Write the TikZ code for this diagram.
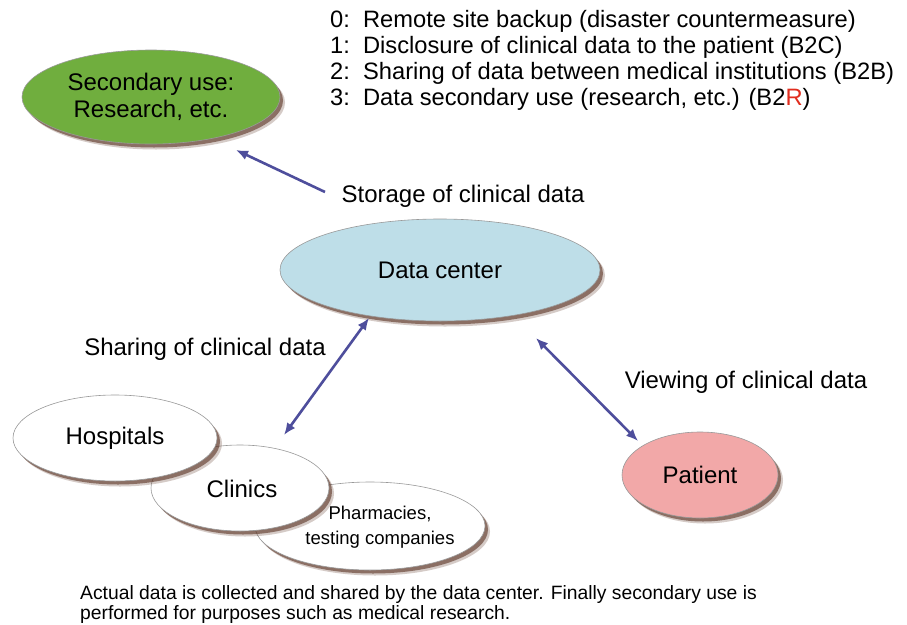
\documentclass[tikz,border=0pt]{standalone}
\usepackage{fontspec}
\setmainfont{Liberation Sans}
\usetikzlibrary{shapes.geometric,shadows,arrows.meta}
\definecolor{greenfill}{RGB}{112,174,62}
\definecolor{bluefill}{RGB}{190,222,232}
\definecolor{pinkfill}{RGB}{242,168,168}
\definecolor{arrowcol}{RGB}{78,78,156}
\definecolor{shadowcol}{RGB}{90,50,35}
\definecolor{redR}{RGB}{225,45,30}
\tikzset{
  blob/.style={ellipse, draw=black!40, line width=0.6pt, inner sep=0pt,
    font=\fontsize{24}{27}\selectfont, align=center,
    drop shadow={shadow xshift=5pt, shadow yshift=-5.5pt, fill=shadowcol, opacity=0.25},
    drop shadow={shadow xshift=3pt, shadow yshift=-3.5pt, fill=shadowcol, opacity=0.6}},
  arr/.style={draw=arrowcol, line width=2.6pt, -{Latex[length=12pt,width=10pt]}},
  darr/.style={draw=arrowcol, line width=2.6pt, {Latex[length=12pt,width=10pt]}-{Latex[length=12pt,width=10pt]}},
  lbl/.style={font=\fontsize{24}{27}\selectfont, inner sep=0pt}
}
\begin{document}
\begin{tikzpicture}[x=1pt,y=-1pt]
\useasboundingbox[fill=white] (0,0) rectangle (907,624);
% legend
\node[anchor=north west, align=left, inner sep=0pt, font=\fontsize{23.7}{26.2}\selectfont] (legend) at (330,10)
  {0:\ \ Remote site backup (disaster countermeasure)\\
   1:\ \ Disclosure of clinical data to the patient (B2C)\\
   2:\ \ Sharing of data between medical institutions (B2B)\\
   3:\ \ Data secondary use (research, etc.) (B2{\color{redR}R})};
% ellipses
\node[blob, fill=greenfill, minimum width=258pt, minimum height=94pt] (sec) at (151,97) {Secondary use:\\Research, etc.};
\node[blob, fill=bluefill, minimum width=320pt, minimum height=102pt] (dc) at (440,270) {Data center};
\node[blob, fill=pinkfill, minimum width=156pt, minimum height=86pt] (pat) at (700,475) {Patient};
\node[blob, fill=white, minimum width=230pt, minimum height=88pt] (pha) at (370,526) {};
\node[blob, fill=white, minimum width=178pt, minimum height=86pt] (cli) at (240,488) {};
\node[blob, fill=white, minimum width=204pt, minimum height=86pt] (hos) at (115,438) {Hospitals};
\node[lbl] (clit) at (242,489) {Clinics};
\node[lbl, align=center, font=\fontsize{18.5}{25}\selectfont] (phat) at (380,527) {Pharmacies,\\testing companies};
% labels
\node[lbl] (store) at (463,196) {Storage of clinical data};
\node[lbl] (share) at (205,349) {Sharing of clinical data};
\node[lbl] (view) at (746,382) {Viewing of clinical data};
% arrow endpoints
\coordinate (a1s) at (325,192);
\coordinate (a1e) at (236,150);
\coordinate (a2s) at (369,318);
\coordinate (a2e) at (284,435);
\coordinate (a3s) at (536,338);
\coordinate (a3e) at (638,441);
\draw[arr] (a1s) -- (a1e);
\draw[darr] (a2s) -- (a2e);
\draw[darr] (a3s) -- (a3e);
% caption
\node[anchor=north west, align=left, inner sep=0pt, font=\fontsize{19.3}{20.5}\selectfont] (cap) at (80,585)
  {Actual data is collected and shared by the data center. Finally secondary use is\\
   performed for purposes such as medical research.};
\end{tikzpicture}
\end{document}
